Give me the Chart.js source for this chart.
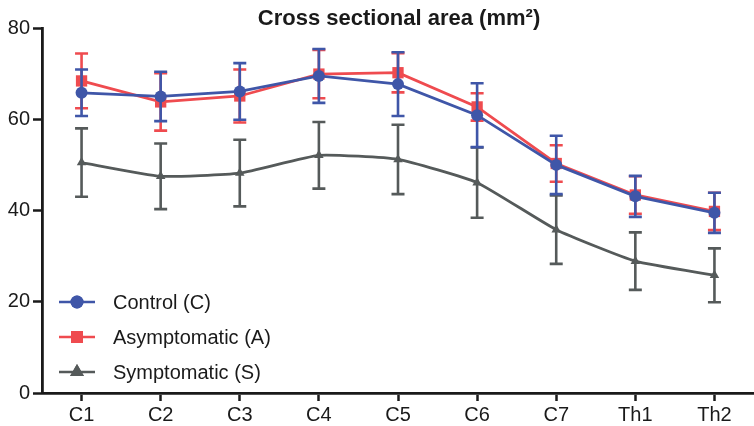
<!DOCTYPE html>
<html>
<head>
<meta charset="utf-8">
<script src="https://cdn.jsdelivr.net/npm/chart.js@4/dist/chart.umd.min.js"></script>
<style>
  html, body { margin: 0; padding: 0; background: #fff; overflow: hidden; }
  #wrap { width: 762px; height: 426px; }
</style>
</head>
<body>
<div id="wrap"><canvas id="csaChart" width="762" height="426"></canvas></div>
<script>
const levels = ["C1", "C2", "C3", "C4", "C5", "C6", "C7", "Th1", "Th2"];
const controlMean = [65.8, 65.0, 66.1, 69.5, 67.7, 60.9, 50.0, 43.1, 39.5];
const controlErr = [5.1, 5.4, 6.2, 5.9, 7.0, 7.0, 6.4, 4.5, 4.4];
const asymMean = [68.4, 63.8, 65.1, 69.9, 70.2, 62.7, 50.3, 43.4, 39.8];
const asymErr = [6.0, 6.3, 5.8, 5.3, 4.3, 3.0, 4.0, 4.1, 4.1];
const sympMean = [50.5, 47.5, 48.2, 52.1, 51.2, 46.1, 35.8, 28.9, 25.8];
const sympErr = [7.5, 7.2, 7.3, 7.3, 7.6, 7.7, 7.5, 6.3, 5.9];
const yTicks = [0, 20, 40, 60, 80];

const BLUE = "#3f56a8";
const RED = "#ef4b4f";
const GRAY = "#555a5a";
const INK = "#1a1a1a";
const FONT = "Arial, 'Liberation Sans', sans-serif";

// error bars drawn under each dataset
const errorBars = {
  id: "errorBars",
  beforeDatasetDraw(chart, args) {
    const ds = chart.data.datasets[args.index];
    const y = chart.scales.y;
    const ctx = chart.ctx;
    ctx.save();
    ctx.strokeStyle = ds.borderColor;
    ctx.lineWidth = 2.6;
    args.meta.data.forEach((pt, i) => {
      const v = ds.data[i], e = ds.errors[i];
      const yTop = y.getPixelForValue(v + e);
      const yBot = y.getPixelForValue(v - e);
      const x = pt.x;
      ctx.beginPath();
      ctx.moveTo(x, yTop);
      ctx.lineTo(x, yBot);
      ctx.moveTo(x - 6.5, yTop);
      ctx.lineTo(x + 6.5, yTop);
      ctx.moveTo(x - 6.5, yBot);
      ctx.lineTo(x + 6.5, yBot);
      ctx.stroke();
    });
    ctx.restore();
  },
};

// title over the plot area and legend inside the plot
const decorations = {
  id: "decorations",
  afterDraw(chart) {
    const ctx = chart.ctx;
    const area = chart.chartArea;
    ctx.save();
    ctx.fillStyle = INK;
    ctx.font = "bold 22px " + FONT;
    ctx.textAlign = "center";
    ctx.textBaseline = "middle";
    ctx.fillText("Cross sectional area (mm²)", (area.left + area.right) / 2 + 1, 19);

    const rows = [302, 337, 372];
    const legendRadius = { circle: 6.5, rect: 8.5, triangle: 8 };
    chart.data.datasets.forEach((ds, i) => {
      const yy = rows[i];
      ctx.strokeStyle = ds.borderColor;
      ctx.lineWidth = 2.6;
      ctx.beginPath();
      ctx.moveTo(59, yy);
      ctx.lineTo(95, yy);
      ctx.stroke();
      ctx.fillStyle = ds.borderColor;
      Chart.helpers.drawPoint(ctx, {
        pointStyle: ds.pointStyle,
        radius: legendRadius[ds.pointStyle],
        borderWidth: 0,
      }, 77, yy);
      ctx.fill();
      ctx.fillStyle = INK;
      ctx.font = "20px " + FONT;
      ctx.textAlign = "left";
      ctx.textBaseline = "middle";
      ctx.fillText(ds.label, 113, yy + 1);
    });
    ctx.restore();
  },
};

new Chart(document.getElementById("csaChart"), {
  type: "line",
  data: {
    labels: levels,
    datasets: [
      {
        label: "Control (C)",
        data: controlMean,
        errors: controlErr,
        borderColor: BLUE,
        backgroundColor: BLUE,
        borderWidth: 2.8,
        pointStyle: "circle",
        pointRadius: 6,
        pointBorderWidth: 0,
        tension: 0,
      },
      {
        label: "Asymptomatic (A)",
        data: asymMean,
        errors: asymErr,
        borderColor: RED,
        backgroundColor: RED,
        borderWidth: 2.8,
        pointStyle: "rect",
        pointRadius: 8,
        pointBorderWidth: 0,
        tension: 0,
      },
      {
        label: "Symptomatic (S)",
        data: sympMean,
        errors: sympErr,
        borderColor: GRAY,
        backgroundColor: GRAY,
        borderWidth: 2.8,
        pointStyle: "triangle",
        pointRadius: 5.5,
        pointBorderWidth: 0,
        tension: 0.15,
      },
    ],
  },
  options: {
    responsive: false,
    animation: false,
    layout: { padding: { top: 28, left: 0, right: 0, bottom: 0 } },
    plugins: {
      legend: { display: false },
      tooltip: { enabled: false },
      title: { display: false },
    },
    scales: {
      x: {
        offset: true,
        grid: {
          offset: false,
          drawOnChartArea: false,
          drawTicks: true,
          tickLength: 8,
          tickWidth: 2.5,
          tickColor: INK,
        },
        border: { display: true, color: INK, width: 2.8 },
        ticks: {
          color: INK,
          font: { family: FONT, size: 20 },
          padding: 2,
          maxRotation: 0,
        },
        afterFit(scale) { scale.height = 33; },
      },
      y: {
        min: 0,
        max: 80,
        afterBuildTicks(scale) { scale.ticks = yTicks.map((v) => ({ value: v })); },
        grid: {
          drawOnChartArea: false,
          drawTicks: true,
          tickLength: 9,
          tickWidth: 2.5,
          tickColor: INK,
        },
        border: { display: true, color: INK, width: 2.8 },
        ticks: {
          color: INK,
          font: { family: FONT, size: 20 },
          padding: 3,
        },
        afterFit(scale) { scale.width = 42; },
      },
    },
  },
  plugins: [errorBars, decorations],
});
</script>
</body>
</html>
